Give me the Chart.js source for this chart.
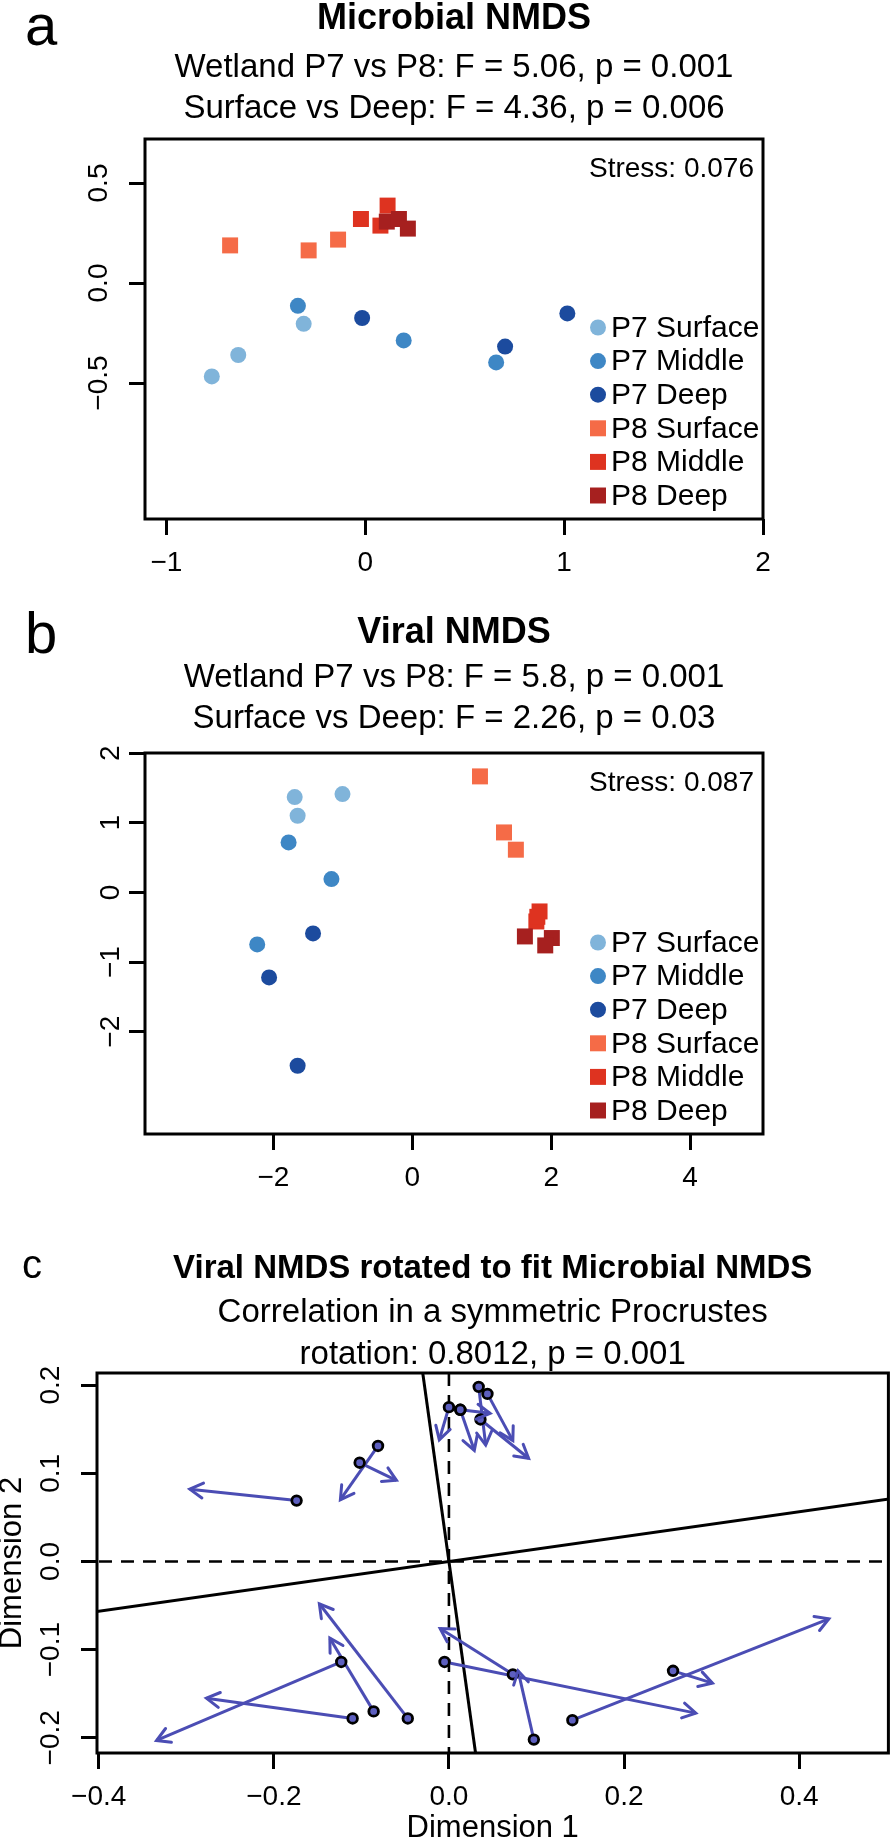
<!DOCTYPE html>
<html>
<head>
<meta charset="utf-8">
<script src="https://cdn.jsdelivr.net/npm/chart.js@4.4.1/dist/chart.umd.min.js"></script>
<style>
  html,body{margin:0;padding:0;background:#fff;}
  #wrap{position:relative;width:896px;height:1841px;overflow:hidden;background:#fff;}
  #wrap canvas{position:absolute;left:0;}
</style>
</head>
<body>
<div id="wrap">
  <canvas id="cA" width="896" height="590" style="top:0"></canvas>
  <canvas id="cB" width="896" height="620" style="top:590px"></canvas>
  <canvas id="cC" width="896" height="631" style="top:1210px"></canvas>
</div>
<script>
const FONT = 'Liberation Sans, Arial, sans-serif';
const MINUS = '\u2212';

// groups (shared by a and b)
const groupNames  = ['P7 Surface','P7 Middle','P7 Deep','P8 Surface','P8 Middle','P8 Deep'];
const groupColors = ['#80b4da','#3e87c5','#1c4b9e','#f56b47','#de3320','#a6201f'];
const groupShapes = ['circle','circle','circle','rect','rect','rect'];

// a) microbial NMDS, one row per group
const microX = [[-0.772,-0.639,-0.310],[-0.339,0.193,0.658],[-0.016,0.703,1.016],
                [-0.680,-0.285,-0.137],[-0.022,0.112,0.076],[0.108,0.169,0.214]];
const microY = [[-0.467,-0.360,-0.204],[-0.114,-0.287,-0.397],[-0.175,-0.318,-0.152],
                [0.188,0.163,0.217],[0.320,0.387,0.287],[0.307,0.320,0.272]];
const microXTicks = [-1,0,1,2],    microXLabels = [MINUS+'1','0','1','2'];
const microYTicks = [-0.5,0,0.5],  microYLabels = [MINUS+'0.5','0.0','0.5'];

// b) viral NMDS
const viralX = [[-1.694,-1.006,-1.652],[-1.782,-1.165,-2.234],[-1.430,-2.063,-1.652],
                [0.974,1.320,1.491],[1.832,1.786,1.800],[1.621,2.009,1.914]];
const viralY = [[1.370,1.413,1.102],[0.718,0.192,-0.747],[-0.589,-1.221,-2.490],
                [1.667,0.862,0.614],[-0.273,-0.417,-0.350],[-0.632,-0.655,-0.761]];
const viralXTicks = [-2,0,2,4],       viralXLabels = [MINUS+'2','0','2','4'];
const viralYTicks = [-2,-1,0,1,2],    viralYLabels = [MINUS+'2',MINUS+'1','0','1','2'];

// c) procrustes: rotated viral points (start) -> microbial target (arrow tip)
const procStartX = [0.000,0.013,0.013,0.034,0.044,0.036,-0.081,-0.102,-0.174,
                    -0.123,-0.110,-0.086,-0.047,-0.005,0.073,0.097,0.141,0.256];
const procStartY = [0.175,0.172,0.172,0.198,0.190,0.161,0.131,0.112,0.069,
                    -0.114,-0.178,-0.170,-0.178,-0.114,-0.128,-0.202,-0.180,-0.124];
const procEndX   = [-0.011,0.029,0.047,0.042,0.073,0.091,-0.124,-0.060,-0.296,
                    -0.334,-0.277,-0.136,-0.148,0.282,-0.010,0.079,0.434,0.301];
const procEndY   = [0.138,0.126,0.168,0.132,0.137,0.117,0.070,0.092,0.082,
                    -0.203,-0.155,-0.087,-0.048,-0.172,-0.076,-0.124,-0.065,-0.138];
// rotation axes (solid) and reference axes (dashed), endpoints in data units
const rotAxisX = [[-0.035,0.035],[-0.45,0.60]];
const rotAxisY = [[0.25,-0.25],[-0.0635,0.0846]];
const refAxisX = [[-0.45,0.60],[0,0]];
const refAxisY = [[0,0],[-0.25,0.25]];
const procXTicks = [-0.4,-0.2,0,0.2,0.4], procXLabels = [MINUS+'0.4',MINUS+'0.2','0.0','0.2','0.4'];
const procYTicks = [-0.2,-0.1,0,0.1,0.2], procYLabels = [MINUS+'0.2',MINUS+'0.1','0.0','0.1','0.2'];

// ---- plugins ----
const panelText = {
  id: 'panelText',
  afterDraw(chart, args, o) {
    const {ctx, chartArea: a} = chart;
    const cx = (a.left + a.right) / 2;
    ctx.save();
    ctx.strokeStyle = '#000'; ctx.lineWidth = 3;
    ctx.strokeRect(a.left, a.top, a.right - a.left, a.bottom - a.top);
    ctx.fillStyle = '#000';
    ctx.textBaseline = 'alphabetic';
    ctx.textAlign = 'left';
    ctx.font = o.letterSize + 'px ' + FONT;
    ctx.fillText(o.letter, o.letterX, o.letterY);
    ctx.textAlign = 'center';
    ctx.font = 'bold ' + o.titleSize + 'px ' + FONT;
    ctx.fillText(o.title, cx, a.top + o.titleDy);
    ctx.font = o.subSize + 'px ' + FONT;
    o.lines.forEach(function(t, i){ ctx.fillText(t, cx, a.top + o.lineDy[i]); });
    if (o.stress) {
      ctx.textAlign = 'right';
      ctx.font = '28px ' + FONT;
      ctx.fillText(o.stress, a.right - 9, a.top + 38);
    }
    if (o.legend) {
      const n = chart.data.datasets.length;
      ctx.font = '30px ' + FONT;
      ctx.textAlign = 'left'; ctx.textBaseline = 'middle';
      chart.data.datasets.forEach(function(ds, i){
        const y = a.bottom - 23.5 - (n - 1 - i) * 33.6;
        const x = a.right - 165;
        ctx.fillStyle = ds.backgroundColor;
        Chart.helpers.drawPoint(ctx, {pointStyle: ds.pointStyle, radius: ds.pointStyle === 'rect' ? 11.3 : 8, borderWidth: 0}, x, y);
        ctx.fillStyle = '#000';
        ctx.fillText(ds.label, a.right - 152, y + 1);
      });
    }
    ctx.restore();
  }
};

const arrowHeads = {
  id: 'arrowHeads',
  afterDatasetsDraw(chart) {
    const {ctx, scales: {x, y}} = chart;
    ctx.save();
    ctx.strokeStyle = '#4b4db4'; ctx.lineWidth = 3; ctx.lineCap = 'round';
    procEndX.forEach(function(ex, i){
      const x0 = x.getPixelForValue(procStartX[i]), y0 = y.getPixelForValue(procStartY[i]);
      const x1 = x.getPixelForValue(ex), y1 = y.getPixelForValue(procEndY[i]);
      const ang = Math.atan2(y1 - y0, x1 - x0), L = 15, h = Math.PI / 6;
      ctx.beginPath();
      ctx.moveTo(x1 - L * Math.cos(ang - h), y1 - L * Math.sin(ang - h));
      ctx.lineTo(x1, y1);
      ctx.lineTo(x1 - L * Math.cos(ang + h), y1 - L * Math.sin(ang + h));
      ctx.stroke();
    });
    ctx.restore();
  }
};

// ---- axes ----
function axis(pos, min, max, ticks, labels, size, o) {
  const horiz = pos === 'bottom';
  return {
    type: 'linear', position: pos, min: min, max: max, bounds: 'data',
    afterBuildTicks: function(s){ s.ticks = ticks.map(function(v){ return {value: v}; }); },
    afterFit: function(s){ if (horiz) s.height = size; else s.width = size; },
    grid: {drawOnChartArea: false, drawTicks: true, tickLength: 16, tickWidth: 3, tickColor: '#000', color: '#000'},
    border: {display: false},
    ticks: {
      callback: function(v, i){ return labels[i]; },
      color: '#000', font: {family: FONT, size: o.font || 28},
      autoSkip: false, padding: o.pad,
      minRotation: horiz ? 0 : 90, maxRotation: horiz ? 0 : 90,
      crossAlign: 'center'
    },
    title: o.title ? {display: true, text: o.title, color: '#000',
      font: {family: FONT, size: 31, lineHeight: 0.8}, padding: 0} : {display: false}
  };
}

function nmdsDatasets(xs, ys) {
  return groupNames.map(function(name, g){
    return {
      label: name,
      data: xs[g].map(function(v, i){ return {x: v, y: ys[g][i]}; }),
      backgroundColor: groupColors[g], borderWidth: 0,
      pointStyle: groupShapes[g],
      pointRadius: groupShapes[g] === 'rect' ? 11.3 : 8,
      order: groupNames.length - g
    };
  });
}

const common = {
  responsive: false, animation: false, devicePixelRatio: 1, events: [],
  plugins: {legend: {display: false}, tooltip: {enabled: false}, title: {display: false}}
};

function cfg(extra) { return Object.assign({}, common, extra); }

// a
new Chart(document.getElementById('cA'), {
  type: 'scatter',
  data: {datasets: nmdsDatasets(microX, microY)},
  options: cfg({
    layout: {padding: {left: 0, right: 133, top: 139, bottom: 0}},
    scales: {
      x: axis('bottom', -1.108, 2.0, microXTicks, microXLabels, 71, {pad: 28}),
      y: axis('left', -1.18, 0.72, microYTicks, microYLabels, 145, {pad: 2})
    },
    plugins: Object.assign({}, common.plugins, {panelText: {
      letter: 'a', letterSize: 58, letterX: 25, letterY: 45,
      title: 'Microbial NMDS', titleSize: 36, titleDy: -110,
      subSize: 33, lines: ['Wetland P7 vs P8: F = 5.06, p = 0.001', 'Surface vs Deep: F = 4.36, p = 0.006'], lineDy: [-62, -21],
      stress: 'Stress: 0.076', legend: true
    }})
  }),
  plugins: [panelText]
});

// b
new Chart(document.getElementById('cB'), {
  type: 'scatter',
  data: {datasets: nmdsDatasets(viralX, viralY)},
  options: cfg({
    layout: {padding: {left: 0, right: 133, top: 163, bottom: 0}},
    scales: {
      x: axis('bottom', -3.85, 5.05, viralXTicks, viralXLabels, 76, {pad: 28}),
      y: axis('left', -3.47, 2.003, viralYTicks, viralYLabels, 145, {pad: 2})
    },
    plugins: Object.assign({}, common.plugins, {panelText: {
      letter: 'b', letterSize: 58, letterX: 25, letterY: 63,
      title: 'Viral NMDS', titleSize: 36, titleDy: -110,
      subSize: 33, lines: ['Wetland P7 vs P8: F = 5.8, p = 0.001', 'Surface vs Deep: F = 2.26, p = 0.03'], lineDy: [-66, -25],
      stress: 'Stress: 0.087', legend: true
    }})
  }),
  plugins: [panelText]
});

// c
function segment(xs, ys, color, width, dash, order) {
  return {
    data: [{x: xs[0], y: ys[0]}, {x: xs[1], y: ys[1]}],
    showLine: true, borderColor: color, borderWidth: width, borderDash: dash,
    pointRadius: 0, clip: 0, order: order
  };
}
const procSets = [];
refAxisX.forEach(function(xs, i){ procSets.push(segment(xs, refAxisY[i], '#000', 2.6, [13, 9], 4)); });
rotAxisX.forEach(function(xs, i){ procSets.push(segment(xs, rotAxisY[i], '#000', 3, [], 3)); });
procStartX.forEach(function(sx, i){
  procSets.push(segment([sx, procEndX[i]], [procStartY[i], procEndY[i]], '#4b4db4', 3, [], 2));
});
procSets.push({
  data: procStartX.map(function(v, i){ return {x: v, y: procStartY[i]}; }),
  pointRadius: 4.8, pointBorderWidth: 2.8, pointBorderColor: '#000', pointBackgroundColor: '#5d5fbf',
  order: 0
});

new Chart(document.getElementById('cC'), {
  type: 'scatter',
  data: {datasets: procSets},
  options: cfg({
    layout: {padding: {left: 0, right: 2, top: 163, bottom: 0}},
    scales: {
      x: axis('bottom', -0.402, 0.502, procXTicks, procXLabels, 88, {pad: 28, title: 'Dimension 1'}),
      y: axis('left', -0.2172, 0.2137, procYTicks, procYLabels, 97, {pad: 2, title: 'Dimension 2'})
    },
    plugins: Object.assign({}, common.plugins, {panelText: {
      letter: 'c', letterSize: 40, letterX: 22, letterY: 163 - 95,
      title: 'Viral NMDS rotated to fit Microbial NMDS', titleSize: 33, titleDy: -95,
      subSize: 33, lines: ['Correlation in a symmetric Procrustes', 'rotation: 0.8012, p = 0.001'], lineDy: [-51, -9]
    }})
  }),
  plugins: [panelText, arrowHeads]
});
</script>
</body>
</html>
